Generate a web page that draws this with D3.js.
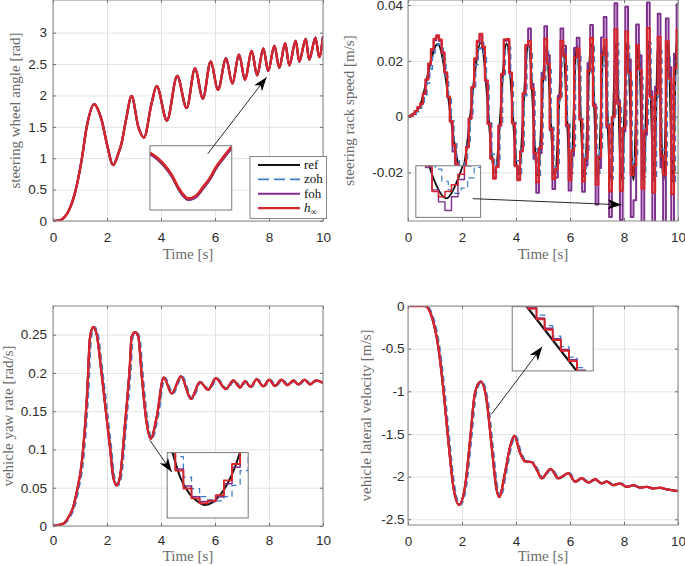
<!DOCTYPE html>
<html>
<head>
<meta charset="utf-8">
<title>controller comparison</title>
<script src="https://cdn.jsdelivr.net/npm/d3@7"></script>
<style>
  body { margin: 0; background: #ffffff; }
  svg { display: block; }
  .tick-label { font-family: 'Liberation Sans', Arial, sans-serif; font-size: 13.5px; fill: #2b2b2b; }
  .axis-label { font-family: 'Liberation Serif', 'Times New Roman', serif; font-size: 15px; fill: #6a6a6a; }
  .legend-label { font-family: 'Liberation Serif', 'Times New Roman', serif; font-size: 13px; fill: #111; }
</style>
</head>
<body>
<svg id="chart" width="685" height="566"></svg>
<script>
//DATA
const timeTicks = [0, 2, 4, 6, 8, 10];
const seriesNames = ['ref', 'zoh', 'foh', 'h'];

// steering wheel angle [rad]
const swaTicks = [0, 0.5, 1, 1.5, 2, 2.5, 3];
const swaTime = [0, 0.2, 0.44, 0.6, 0.81, 1.06, 1.25, 1.53, 1.68, 1.8, 1.99, 2.23, 2.4, 2.54, 2.7, 2.91,
  3.16, 3.37, 3.65, 3.84, 4.22, 4.6, 4.95, 5.26, 5.55, 5.84, 6.11, 6.41, 6.64, 6.89, 7.11, 7.36,
  7.56, 7.79, 7.97, 8.2, 8.38, 8.6, 8.75, 8.99, 9.12, 9.36, 9.49, 9.72, 9.86, 10];
const swaAngle = [0, 0.005, 0.07, 0.18, 0.44, 0.97, 1.5, 1.86, 1.76, 1.61, 1.24, 0.89, 1.05, 1.24, 1.6, 1.99,
  1.5, 1.33, 1.87, 2.15, 1.6, 2.31, 1.8, 2.43, 1.95, 2.54, 2.09, 2.59, 2.19, 2.65, 2.25, 2.71,
  2.32, 2.75, 2.39, 2.79, 2.44, 2.83, 2.48, 2.87, 2.54, 2.9, 2.57, 2.92, 2.61, 2.94];
const swaInsetTime = [7.82, 7.85, 7.88, 7.9, 7.925, 7.94, 7.961, 7.99, 8.015, 8.04, 8.06, 8.09, 8.12];
const swaInsetRef = [2.442, 2.435, 2.425, 2.416, 2.401, 2.394, 2.3885, 2.392, 2.402, 2.4125, 2.424, 2.437, 2.449];
const swaInsetFoh = [2.4405, 2.4335, 2.4235, 2.4145, 2.3995, 2.3925, 2.387, 2.3905, 2.4005, 2.411, 2.4225, 2.4355, 2.4475];

// steering rack speed [m/s]
const rackTicks = [-0.02, 0, 0.02, 0.04];
const rackRefTime = [0, 0.4, 1.1, 1.98, 2.7, 3.22, 3.65, 4.09, 4.46, 4.8, 5.11, 5.44, 5.73, 6.03, 6.25, 6.53,
  6.78, 7.03, 7.26, 7.51, 7.7, 7.91, 8.12, 8.35, 8.54, 8.72, 8.91, 9.11, 9.27, 9.46, 9.64, 9.8, 9.95, 10];
const rackRef = [0, 0.003, 0.026, -0.0195, 0.0265, -0.02, 0.0262, -0.0205, 0.0258, -0.021, 0.025, -0.0215,
  0.0255, -0.0215, 0.0255, -0.022, 0.026, -0.022, 0.026, -0.0225, 0.0262, -0.0225, 0.0265, -0.0228,
  0.0265, -0.023, 0.0268, -0.023, 0.0268, -0.0232, 0.027, -0.0232, 0.027, 0.0262];
const rackSampleStep = 0.1;
const rackZoh = [
  0, 0.0002, 0.0008, 0.0018, 0.003, 0.0041, 0.0074, 0.012, 0.017, 0.0216,
  0.0249, 0.026, 0.0246, 0.0205, 0.0142, 0.0064, -0.0015, -0.009, -0.015, -0.0186,
  -0.0194, -0.0164, -0.0098, -0.0006, 0.0095, 0.0187, 0.0243, 0.0265, 0.0224, 0.0116,
  -0.0023, -0.0135, -0.0198, -0.0162, -0.0029, 0.0137, 0.0247, 0.0248, 0.0141, -0.0021,
  -0.0158, -0.0204, -0.0112, 0.0075, 0.0229, 0.0243, 0.009, -0.0116, -0.021, -0.01,
  0.0121, 0.0249, 0.0169, -0.0038, -0.0199, -0.0168, 0.0058, 0.0243, 0.0195, -0.0027,
  -0.0204, -0.0107, 0.0189, 0.0218, -0.0009, -0.0207, -0.0134, 0.0147, 0.0252, 0.0034,
  -0.0203, -0.0119, 0.0183, 0.023, -0.0026, -0.0223, -0.0001, 0.0262, 0.0038, -0.0222,
  -0.0034, 0.0254, 0.0132, -0.0174, -0.0147, 0.0213, 0.0141, -0.0215, -0.0042, 0.0264,
  0.0059, -0.0227, 0.0069, 0.0238, -0.0117, -0.0173, 0.0227, 0.0114, -0.0232, 0.0145,
  0.026];
const rackFoh = [
  0, 0.0002, 0.0009, 0.002, 0.0033, 0.0045, 0.0081, 0.0132, 0.0187, 0.0238,
  0.0274, 0.0286, 0.0271, 0.0226, 0.0156, 0.007, -0.0017, -0.0125, -0.0175, -0.0205,
  -0.0213, -0.018, -0.0108, -0.0007, 0.0105, 0.0206, 0.0267, 0.0292, 0.0246, 0.0128,
  -0.0025, -0.0149, -0.0218, -0.0178, -0.0032, 0.0151, 0.0272, 0.0273, 0.0155, -0.0023,
  -0.0174, -0.0224, -0.0123, 0.0083, 0.0252, 0.0316, 0.0117, -0.0151, -0.0273, -0.013,
  0.0157, 0.0324, 0.022, -0.0049, -0.0259, -0.0218, 0.0075, 0.0316, 0.0254, -0.0035,
  -0.0265, -0.0139, 0.0246, 0.0283, -0.0012, -0.0269, -0.0174, 0.0191, 0.0328, 0.0044,
  -0.0315, -0.0184, 0.0284, 0.0357, -0.004, -0.036, -0.0002, 0.0406, 0.0059, -0.037,
  -0.0053, 0.0394, 0.0205, -0.036, -0.03, 0.033, 0.0219, -0.04, -0.0065, 0.0409,
  0.0091, -0.041, 0.0107, 0.0369, -0.0181, -0.039, 0.0352, 0.0177, -0.042, 0.0225,
  0.0403];
const rackHinf = [
  0, 0.0002, 0.0009, 0.002, 0.0034, 0.0046, 0.0083, 0.0134, 0.019, 0.0242,
  0.0279, 0.0291, 0.0276, 0.023, 0.0159, 0.0072, -0.0017, -0.0101, -0.0168, -0.0208,
  -0.0217, -0.0184, -0.011, -0.0007, 0.0106, 0.0209, 0.0272, 0.0297, 0.0251, 0.013,
  -0.0026, -0.0151, -0.0222, -0.0181, -0.0032, 0.0153, 0.0277, 0.0278, 0.0158, -0.0024,
  -0.0177, -0.0228, -0.0125, 0.0084, 0.0256, 0.0272, 0.0101, -0.013, -0.0235, -0.0112,
  0.0136, 0.0279, 0.0189, -0.0043, -0.0223, -0.0188, 0.0065, 0.0272, 0.0218, -0.003,
  -0.0228, -0.012, 0.0212, 0.0244, -0.001, -0.0232, -0.015, 0.0165, 0.0282, 0.0038,
  -0.0244, -0.0143, 0.022, 0.0276, -0.0031, -0.0268, -0.0001, 0.0314, 0.0046, -0.0266,
  -0.0041, 0.0305, 0.0158, -0.0209, -0.0176, 0.0256, 0.0169, -0.0258, -0.005, 0.0317,
  0.0071, -0.0272, 0.0083, 0.0286, -0.014, -0.0208, 0.0272, 0.0137, -0.0278, 0.0174,
  0.0312];
const rackInsetRefTime = [1.876, 1.9, 1.93, 1.96, 1.989, 2.02, 2.05, 2.075, 2.1];
const rackInsetRef = [-0.0183, -0.019, -0.0197, -0.0202, -0.0204, -0.0201, -0.0195, -0.0189, -0.0182];
const rackInsetStart = 1.8;
const rackInsetStep = 0.04;
const rackInsetZoh = [-0.0165, -0.0172, -0.018, -0.0187, -0.0194, -0.0199, -0.0201, -0.0198, -0.0192, -0.0186, -0.018];
const rackInsetFoh = [-0.0168, -0.0176, -0.0186, -0.0199, -0.0206, -0.0211, -0.0203, -0.0193, -0.0185, -0.0177, -0.017];
const rackInsetHinf = [-0.017, -0.0178, -0.0185, -0.02, -0.0203, -0.02, -0.0196, -0.019, -0.0183, -0.0176, -0.017];

// vehicle yaw rate [rad/s]
const yawTicks = [0, 0.05, 0.1, 0.15, 0.2, 0.25];
const yawTime = [0, 0.38, 0.55, 0.75, 0.9, 1.06, 1.27, 1.37, 1.49, 1.62, 1.8, 2.11, 2.23, 2.36, 2.48, 2.67,
  2.85, 2.91, 3.04, 3.16, 3.28, 3.47, 3.62, 3.84, 4.1, 4.4, 4.74, 5.11, 5.44, 5.75, 6.03, 6.4,
  6.68, 6.93, 7.11, 7.32, 7.54, 7.79, 8.01, 8.22, 8.46, 8.68, 8.9, 9.09, 9.31, 9.52, 9.74, 10];
const yawRate = [0, 0.003, 0.01, 0.025, 0.048, 0.081, 0.177, 0.246, 0.26, 0.25, 0.199, 0.103, 0.064, 0.053, 0.064, 0.134,
  0.212, 0.247, 0.253, 0.247, 0.199, 0.134, 0.114, 0.142, 0.194, 0.173, 0.1955, 0.166, 0.188, 0.178, 0.193, 0.179,
  0.19, 0.181, 0.189, 0.1816, 0.1916, 0.1825, 0.191, 0.183, 0.191, 0.184, 0.19, 0.185, 0.191, 0.185, 0.19, 0.187];
const yawInsetRefTime = [3.505, 3.52, 3.54, 3.57, 3.595, 3.616, 3.64, 3.665, 3.69, 3.71, 3.728];
const yawInsetRef = [0.1215, 0.1195, 0.117, 0.1149, 0.114, 0.1136, 0.1139, 0.1149, 0.1165, 0.1183, 0.1205];
const yawInsetStart = 3.5;
const yawInsetStep = 0.025;
const yawInsetZoh = [0.1228, 0.1195, 0.117, 0.1156, 0.1146, 0.1142, 0.1141, 0.1146, 0.116, 0.1178, 0.1198];
const yawInsetFoh = [0.1212, 0.118, 0.1159, 0.1146, 0.114, 0.114, 0.1146, 0.1162, 0.1182, 0.1201, 0.1222];
const yawInsetHinf = [0.121, 0.1178, 0.1156, 0.1144, 0.1138, 0.1141, 0.1148, 0.1166, 0.1186, 0.1205, 0.1225];

// vehicle lateral velocity [m/s]
const latTicks = [-2.5, -2, -1.5, -1, -0.5, 0];
const latTime = [0, 0.63, 0.88, 1.12, 1.31, 1.49, 1.68, 1.89, 2.11, 2.3, 2.48, 2.69, 2.91, 3.1, 3.28, 3.38,
  3.59, 3.78, 3.94, 4.15, 4.33, 4.58, 4.77, 4.95, 5.28, 5.57, 5.94, 6.19, 6.43, 6.68, 6.93, 7.17,
  7.36, 7.6, 7.85, 8.1, 8.35, 8.59, 8.84, 9.09, 9.31, 9.6, 10];
const latVel = [0, 0, -0.125, -0.477, -0.98, -1.57, -2.12, -2.33, -2.12, -1.57, -1.02, -0.886, -1.1, -1.65, -2.15, -2.24,
  -1.96, -1.65, -1.52, -1.72, -1.82, -1.83, -1.92, -2.02, -1.91, -2.02, -1.96, -2.06, -2.02, -2.07, -2.03, -2.08,
  -2.057, -2.1, -2.08, -2.12, -2.1, -2.13, -2.12, -2.14, -2.13, -2.15, -2.17];
const latInsetRefTime = [1.333, 1.462];
const latInsetRef = [-1.04, -1.46];
const latInsetStart = 1.32;
const latInsetStep = 0.02;
const latInsetZoh = [-0.973, -1.038, -1.103, -1.168, -1.233, -1.299, -1.364, -1.429, -1.494];
const latInsetFoh = [-0.99, -1.055, -1.12, -1.185, -1.25, -1.316, -1.381, -1.446, -1.511];
const latInsetHinf = [-0.998, -1.063, -1.128, -1.193, -1.258, -1.324, -1.389, -1.454, -1.519];

//SETUP
const svg = d3.select('#chart');
const defs = svg.append('defs');

defs
  .append('marker')
  .attr('id', 'arrow-head')
  .attr('viewBox', '0 0 14 10')
  .attr('refX', 14)
  .attr('refY', 5)
  .attr('markerWidth', 14)
  .attr('markerHeight', 10)
  .attr('markerUnits', 'userSpaceOnUse')
  .attr('orient', 'auto')
  .append('path')
  .attr('d', 'M0,0 L14,5 L0,10 L4,5 Z')
  .attr('fill', '#000');

const styles = {
  ref: { stroke: '#111111', width: 2 },
  zoh: { stroke: '#3f7cc8', width: 1.7, dash: '6,4' },
  foh: { stroke: '#7e2f8e', width: 2 },
  hinf: { stroke: '#d7262b', width: 2.2 },
};

function pairs(t, v) {
  return t.map((d, i) => [d, v[i]]);
}

function stairs(values, start, step) {
  return values.map((v, i) => [start + i * step, v]);
}

function drawSeries(layer, points, x, y, style, curve, lag = 0, widthScale = 1) {
  const line = d3
    .line()
    .x((d) => x(d[0] + lag))
    .y((d) => y(d[1]))
    .curve(curve);

  layer
    .append('path')
    .datum(points)
    .attr('d', line)
    .attr('fill', 'none')
    .attr('stroke', style.stroke)
    .attr('stroke-width', style.width * widthScale)
    .attr('stroke-dasharray', style.dash || null)
    .attr('stroke-linejoin', 'round');
}

//AXES
function setupAxes(cfg) {
  const g = svg.append('g').attr('class', cfg.id);
  const x = d3.scaleLinear().domain([0, 10]).range([cfg.left, cfg.right]);
  const y = d3.scaleLinear().domain(cfg.yDomain).range([cfg.bottom, cfg.top]);
  const w = cfg.right - cfg.left;
  const h = cfg.bottom - cfg.top;

  //GRID
  g.append('g')
    .attr('transform', `translate(0,${cfg.bottom})`)
    .call(d3.axisBottom(x).tickValues(timeTicks).tickSize(-h).tickFormat(''))
    .call((a) => a.select('.domain').remove())
    .selectAll('line')
    .attr('stroke', '#e3e3e3');

  g.append('g')
    .attr('transform', `translate(${cfg.left},0)`)
    .call(d3.axisLeft(y).tickValues(cfg.yTicks).tickSize(-w).tickFormat(''))
    .call((a) => a.select('.domain').remove())
    .selectAll('line')
    .attr('stroke', '#e3e3e3');

  //TICK LABELS
  g.append('g')
    .attr('transform', `translate(0,${cfg.bottom})`)
    .call(d3.axisBottom(x).tickValues(timeTicks).tickSize(0).tickPadding(cfg.xPad).tickFormat((d) => String(d)))
    .call((a) => a.select('.domain').remove())
    .selectAll('text')
    .attr('class', 'tick-label');

  g.append('g')
    .attr('transform', `translate(${cfg.left},0)`)
    .call(d3.axisLeft(y).tickValues(cfg.yTicks).tickSize(0).tickPadding(cfg.yPad).tickFormat((d) => String(+d.toFixed(3))))
    .call((a) => a.select('.domain').remove())
    .selectAll('text')
    .attr('class', 'tick-label');

  //CLIP
  defs
    .append('clipPath')
    .attr('id', `${cfg.id}-clip`)
    .append('rect')
    .attr('x', cfg.left)
    .attr('y', cfg.top)
    .attr('width', w)
    .attr('height', h);

  const plot = g.append('g').attr('clip-path', `url(#${cfg.id}-clip)`);

  return { g, x, y, plot, w, h };
}

function finishAxes(cfg, ax) {
  //SMALL INWARD TICKS
  const tickColor = '#6e6e6e';
  [
    [d3.axisBottom(ax.x).tickValues(timeTicks), `translate(0,${cfg.bottom})`],
    [d3.axisTop(ax.x).tickValues(timeTicks), `translate(0,${cfg.top})`],
    [d3.axisLeft(ax.y).tickValues(cfg.yTicks), `translate(${cfg.left},0)`],
    [d3.axisRight(ax.y).tickValues(cfg.yTicks), `translate(${cfg.right},0)`],
  ].forEach(([axis, tr]) => {
    ax.g.append('g')
      .attr('transform', tr)
      .call(axis.tickSize(-3).tickFormat(''))
      .call((a) => a.select('.domain').remove())
      .selectAll('line')
      .attr('stroke', tickColor);
  });

  //BOX
  ax.g.append('rect')
    .attr('x', cfg.left)
    .attr('y', cfg.top)
    .attr('width', ax.w)
    .attr('height', ax.h)
    .attr('fill', 'none')
    .attr('stroke', '#858585')
    .attr('stroke-width', 1);

  //LABELS
  ax.g.append('text')
    .attr('class', 'axis-label')
    .attr('transform', `translate(${cfg.yLabelX},${(cfg.top + cfg.bottom) / 2}) rotate(-90)`)
    .attr('text-anchor', 'middle')
    .text(cfg.yLabel);

  ax.g.append('text')
    .attr('class', 'axis-label')
    .attr('x', (cfg.left + cfg.right) / 2)
    .attr('y', cfg.xLabelY)
    .attr('text-anchor', 'middle')
    .text('Time [s]');
}

//INSET
function drawInset(ax, id, inset) {
  const x0 = ax.x(inset.box[0]);
  const x1 = ax.x(inset.box[1]);
  const y0 = ax.y(inset.box[2]);
  const y1 = ax.y(inset.box[3]);
  const ix = d3.scaleLinear().domain([inset.window[0], inset.window[1]]).range([x0, x1]);
  const iy = d3.scaleLinear().domain([inset.window[2], inset.window[3]]).range([y1, y0]);

  ax.g.append('rect')
    .attr('x', x0).attr('y', y0)
    .attr('width', x1 - x0).attr('height', y1 - y0)
    .attr('fill', '#fff');

  defs.append('clipPath')
    .attr('id', `${id}-inset-clip`)
    .append('rect')
    .attr('x', x0).attr('y', y0)
    .attr('width', x1 - x0).attr('height', y1 - y0);

  const layer = ax.g.append('g').attr('clip-path', `url(#${id}-inset-clip)`);
  inset.series.forEach((s) => {
    drawSeries(layer, s.points, ix, iy, styles[s.name], s.curve, 0, s.scale || 1);
  });

  ax.g.append('rect')
    .attr('x', x0).attr('y', y0)
    .attr('width', x1 - x0).attr('height', y1 - y0)
    .attr('fill', 'none')
    .attr('stroke', '#7a7a7a')
    .attr('stroke-width', 1);
}

function drawArrow(ax, from, to) {
  ax.g.append('line')
    .attr('x1', ax.x(from[0]))
    .attr('y1', ax.y(from[1]))
    .attr('x2', ax.x(to[0]))
    .attr('y2', ax.y(to[1]))
    .attr('stroke', '#111')
    .attr('stroke-width', 0.9)
    .attr('marker-end', 'url(#arrow-head)');
}

//PANEL 1 - STEERING WHEEL ANGLE
const p1 = {
  id: 'swa', left: 53, right: 323, top: 0, bottom: 221,
  yDomain: [0, 3.52], yTicks: swaTicks, xPad: 11.8, yPad: 6,
  yLabel: 'steering wheel angle [rad]', yLabelX: 19.5, xLabelY: 259,
};
const ax1 = setupAxes(p1);
const swaPoints = pairs(swaTime, swaAngle);
drawSeries(ax1.plot, swaPoints, ax1.x, ax1.y, styles.ref, d3.curveMonotoneX, 0, 1.1);
drawSeries(ax1.plot, swaPoints, ax1.x, ax1.y, styles.zoh, d3.curveMonotoneX, 0, 1.1);
drawSeries(ax1.plot, swaPoints, ax1.x, ax1.y, styles.foh, d3.curveMonotoneX, 0, 1.1);
drawSeries(ax1.plot, swaPoints, ax1.x, ax1.y, styles.hinf, d3.curveMonotoneX, 0, 1.1);
finishAxes(p1, ax1);
drawInset(ax1, 'swa', {
  box: [3.59, 6.62, 1.199, 0.175],
  window: [7.82, 8.12, 2.375, 2.45],
  series: [
    { name: 'ref', points: pairs(swaInsetTime, swaInsetFoh), curve: d3.curveMonotoneX, scale: 1.2 },
    { name: 'zoh', points: pairs(swaInsetTime, swaInsetFoh), curve: d3.curveMonotoneX, scale: 1.2 },
    { name: 'foh', points: pairs(swaInsetTime, swaInsetFoh), curve: d3.curveMonotoneX, scale: 1.2 },
    { name: 'hinf', points: pairs(swaInsetTime, swaInsetRef), curve: d3.curveMonotoneX, scale: 1.2 },
  ],
});
drawArrow(ax1, [5.73, 1.07], [7.91, 2.29]);

//LEGEND
const legend = ax1.g.append('g');
legend.append('rect')
  .attr('x', 250).attr('y', 156.5)
  .attr('width', 76.5).attr('height', 62)
  .attr('fill', '#fff')
  .attr('stroke', '#858585');

['ref', 'zoh', 'foh', 'hinf'].forEach((key, i) => {
  const rowY = 165 + i * 14.4;
  legend.append('line')
    .attr('x1', 258).attr('x2', 300)
    .attr('y1', rowY).attr('y2', rowY)
    .attr('stroke', styles[key].stroke)
    .attr('stroke-width', styles[key].width)
    .attr('stroke-dasharray', key === 'zoh' ? '11,5' : null);
  const label = legend.append('text')
    .attr('class', 'legend-label')
    .attr('x', 304)
    .attr('y', rowY + 4);
  if (key === 'hinf') {
    label.append('tspan').style('font-style', 'italic').text(seriesNames[i]);
    label.append('tspan').attr('dy', 3).style('font-size', '9px').text('∞');
  } else {
    label.text(seriesNames[i]);
  }
});

//PANEL 2 - STEERING RACK SPEED
const p2 = {
  id: 'rack', left: 408, right: 678, top: 0, bottom: 221,
  yDomain: [-0.0374, 0.0418], yTicks: rackTicks, xPad: 11, yPad: 5,
  yLabel: 'steering rack speed [m/s]', yLabelX: 354, xLabelY: 259,
};
const ax2 = setupAxes(p2);
drawSeries(ax2.plot, pairs(rackRefTime, rackRef), ax2.x, ax2.y, styles.ref, d3.curveMonotoneX);
drawSeries(ax2.plot, stairs(rackZoh, 0, rackSampleStep), ax2.x, ax2.y, styles.zoh, d3.curveStepAfter);
drawSeries(ax2.plot, stairs(rackFoh, 0, rackSampleStep), ax2.x, ax2.y, styles.foh, d3.curveStep);
drawSeries(ax2.plot, stairs(rackHinf, 0, rackSampleStep), ax2.x, ax2.y, styles.hinf, d3.curveStep);
finishAxes(p2, ax2);
drawInset(ax2, 'rack', {
  box: [0.29, 2.69, -0.0176, -0.0361],
  window: [1.8, 2.2, -0.0215, -0.0185],
  series: [
    { name: 'ref', points: pairs(rackInsetRefTime, rackInsetRef), curve: d3.curveMonotoneX, scale: 0.9 },
    { name: 'zoh', points: stairs(rackInsetZoh, rackInsetStart, rackInsetStep), curve: d3.curveStepAfter, scale: 0.7 },
    { name: 'foh', points: stairs(rackInsetFoh, rackInsetStart, rackInsetStep), curve: d3.curveStep, scale: 0.7 },
    { name: 'hinf', points: stairs(rackInsetHinf, rackInsetStart, rackInsetStep), curve: d3.curveStep, scale: 0.7 },
  ],
});
drawArrow(ax2, [2.4, -0.0294], [7.91, -0.0316]);

//PANEL 3 - YAW RATE
const zohLag = 0.05;
const p3 = {
  id: 'yaw', left: 53, right: 323, top: 306, bottom: 526,
  yDomain: [0, 0.2874], yTicks: yawTicks, xPad: 9.6, yPad: 6,
  yLabel: 'vehicle yaw rate [rad/s]', yLabelX: 13, xLabelY: 561,
};
const ax3 = setupAxes(p3);
const yawPoints = pairs(yawTime, yawRate);
drawSeries(ax3.plot, yawPoints, ax3.x, ax3.y, styles.ref, d3.curveMonotoneX);
drawSeries(ax3.plot, yawPoints, ax3.x, ax3.y, styles.zoh, d3.curveMonotoneX, zohLag);
drawSeries(ax3.plot, yawPoints, ax3.x, ax3.y, styles.foh, d3.curveMonotoneX);
drawSeries(ax3.plot, yawPoints, ax3.x, ax3.y, styles.hinf, d3.curveMonotoneX, 0, 1.1);
finishAxes(p3, ax3);
drawInset(ax3, 'yaw', {
  box: [4.23, 7.23, 0.0959, 0.0105],
  window: [3.5, 3.75, 0.112, 0.12],
  series: [
    { name: 'ref', points: pairs(yawInsetRefTime, yawInsetRef), curve: d3.curveMonotoneX, scale: 1 },
    { name: 'zoh', points: stairs(yawInsetZoh, yawInsetStart, yawInsetStep), curve: d3.curveStepAfter, scale: 0.75 },
    { name: 'foh', points: stairs(yawInsetFoh, yawInsetStart, yawInsetStep), curve: d3.curveStepAfter, scale: 0.75 },
    { name: 'hinf', points: stairs(yawInsetHinf, yawInsetStart, yawInsetStep), curve: d3.curveStepAfter, scale: 0.85 },
  ],
});
drawArrow(ax3, [3.59, 0.112], [4.4, 0.0705]);

//PANEL 4 - LATERAL VELOCITY
const p4 = {
  id: 'lat', left: 408, right: 678, top: 306, bottom: 525,
  yDomain: [-2.567, 0], yTicks: latTicks, xPad: 11.1, yPad: 3.5,
  yLabel: 'vehicle lateral velocity [m/s]', yLabelX: 371, xLabelY: 561,
};
const ax4 = setupAxes(p4);
const latPoints = pairs(latTime, latVel);
drawSeries(ax4.plot, latPoints, ax4.x, ax4.y, styles.ref, d3.curveMonotoneX);
drawSeries(ax4.plot, latPoints, ax4.x, ax4.y, styles.zoh, d3.curveMonotoneX, zohLag);
drawSeries(ax4.plot, latPoints, ax4.x, ax4.y, styles.foh, d3.curveMonotoneX);
drawSeries(ax4.plot, latPoints, ax4.x, ax4.y, styles.hinf, d3.curveMonotoneX, 0, 1.1);
finishAxes(p4, ax4);
drawInset(ax4, 'lat', {
  box: [3.86, 6.86, -0.008, -0.761],
  window: [1.3, 1.5, -1.45, -1.05],
  series: [
    { name: 'ref', points: pairs(latInsetRefTime, latInsetRef), curve: d3.curveLinear, scale: 1.1 },
    { name: 'zoh', points: stairs(latInsetZoh, latInsetStart, latInsetStep), curve: d3.curveStepAfter, scale: 0.75 },
    { name: 'foh', points: stairs(latInsetFoh, latInsetStart, latInsetStep), curve: d3.curveStepAfter, scale: 0.75 },
    { name: 'hinf', points: stairs(latInsetHinf, latInsetStart, latInsetStep), curve: d3.curveStepAfter, scale: 0.9 },
  ],
});
drawArrow(ax4, [3.1, -1.265], [4.97, -0.477]);
</script>
</body>
</html>
